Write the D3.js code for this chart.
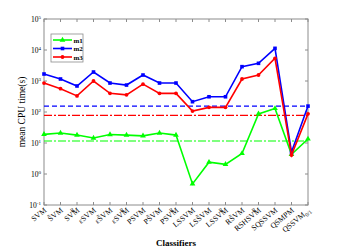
<!DOCTYPE html>
<html>
<head>
<meta charset="utf-8">
<script src="https://cdn.jsdelivr.net/npm/d3@7"></script>
<style>
  body { margin: 0; background: #fff; }
  text { font-family: "Liberation Serif", "DejaVu Serif", serif; }
</style>
</head>
<body>
<div class="chart"></div>
<script>

// data
var classifiers = ["SVM", "S\u0303VM", "SVM^R", "\u03b5SVM", "\u03b5S\u0303VM", "\u03b5SVM^R",
  "PSVM", "PS\u0303VM", "PSVM^R", "LSSVM", "LSS\u0303VM", "LSSVM^R",
  "RS\u0303VM", "RSHSVM^R", "SQSSVM", "QSMPM", "QSSVM_0/1"];

var m1 = [19, 21, 18, 14.5, 18.7, 18, 17, 21, 18, 0.48, 2.4, 2.05, 4.6, 87, 130, 4.3, 13.5];
var m2 = [1680, 1160, 690, 1950, 860, 740, 1560, 860, 860, 215, 310, 310, 2900, 3720, 11300, 5.1, 155];
var m3 = [860, 565, 330, 1000, 400, 357, 790, 400, 400, 107, 141, 141, 1160, 1560, 5400, 4.1, 87];

// mean reference levels
var ref = {m1: 11.6, m2: 155, m3: 78};

var yTicks = [-1, 0, 1, 2, 3, 4, 5];

var series = [
  {name: "m1", values: m1, color: "#00ff00", marker: "tri", dash: "8,2,2,2"},
  {name: "m2", values: m2, color: "#0000ff", marker: "sq", dash: "5,3"},
  {name: "m3", values: m3, color: "#ff0000", marker: "circ", dash: "8,2,2,2"}
];

var margin = {top: 19, right: 33, bottom: 46, left: 44},
    W = 341, H = 251,
    width = W - margin.left - margin.right,
    height = H - margin.top - margin.bottom;

var svg = d3.select(".chart").append("svg")
  .attr("width", W).attr("height", H)

var g = svg.append("g")
  .attr("transform", "translate(" + margin.left + "," + margin.top + ")")

var x = d3.scalePoint()
  .domain(d3.range(classifiers.length))
  .range([0, width])

var y = d3.scaleLog()
  .domain([0.1, 1e5])
  .range([height, 0])

var axisColor = "#8c8c8c";

// frame
g.append("rect")
  .attr("width", width).attr("height", height)
  .attr("fill", "none").attr("stroke", axisColor).attr("stroke-width", 1)

// ticks inside the box
var tickLen = 3;
g.selectAll(".xt").data(d3.range(classifiers.length)).enter().append("path")
  .attr("d", function(i) { return "M" + x(i) + "," + height + "v" + (-tickLen) + "M" + x(i) + ",0v" + tickLen; })
  .attr("stroke", axisColor)
g.selectAll(".yt").data(yTicks).enter().append("path")
  .attr("d", function(e) { var p = y(Math.pow(10, e)); return "M0," + p + "h" + tickLen + "M" + width + "," + p + "h" + (-tickLen); })
  .attr("stroke", axisColor)

// y tick labels
var yl = g.selectAll(".yl").data(yTicks).enter().append("text")
  .attr("x", -3)
  .attr("y", function(e) { return y(Math.pow(10, e)) + 3; })
  .attr("text-anchor", "end")
  .style("font-size", "7.5px")
yl.append("tspan").text("10")
yl.append("tspan").attr("dy", -3).style("font-size", "5px").text(function(e) { return e; })

// x tick labels, rotated
function addLabel(sel, s) {
  var m = s.match(/^([^_^]+)([_^])?(.*)$/);
  sel.append("tspan").text(m[1]);
  if (m[2] == "_") sel.append("tspan").attr("dy", 2).style("font-size", "5.5px").text(m[3]);
  if (m[2] == "^") sel.append("tspan").attr("dy", -4).attr("dx", -7).style("font-size", "5.5px").text(m[3]);
}
g.selectAll(".xl").data(classifiers).enter().append("text")
  .attr("text-anchor", "end")
  .attr("transform", function(d, i) { return "translate(" + (x(i) + 3) + "," + (height + 6) + ") rotate(-40)"; })
  .style("font-size", "7.8px")
  .each(function(d) { addLabel(d3.select(this), d); })

// reference lines
series.forEach(function(s) {
  g.append("line")
    .attr("x1", 0).attr("x2", width)
    .attr("y1", y(ref[s.name])).attr("y2", y(ref[s.name]))
    .attr("stroke", s.color)
    .attr("stroke-width", 1.1)
    .attr("stroke-dasharray", s.dash)
})

var line = d3.line()
  .x(function(d, i) { return x(i); })
  .y(function(d) { return y(d); })

function drawMarker(sel, type, color) {
  if (type == "tri") {
    sel.append("path").attr("d", d3.symbol(d3.symbolTriangle, 14)).attr("fill", color);
  } else if (type == "sq") {
    sel.append("rect").attr("x", -1.8).attr("y", -1.8).attr("width", 3.6).attr("height", 3.6).attr("fill", color);
  } else {
    sel.append("circle").attr("r", 1.9).attr("fill", color);
  }
}

series.forEach(function(s) {
  g.append("path")
    .datum(s.values)
    .attr("d", line)
    .attr("fill", "none")
    .attr("stroke", s.color)
    .attr("stroke-width", 1.6)

  g.selectAll(".pt-" + s.name).data(s.values).enter().append("g")
    .attr("transform", function(d, i) { return "translate(" + x(i) + "," + y(d) + ")"; })
    .each(function() { drawMarker(d3.select(this), s.marker, s.color); })
})

// legend
var lg = g.append("g").attr("transform", "translate(7,15)")
lg.append("rect")
  .attr("width", 32).attr("height", 28)
  .attr("fill", "#fff").attr("stroke", axisColor).attr("stroke-width", 0.8)
series.forEach(function(s, i) {
  var row = lg.append("g").attr("transform", "translate(0," + (6 + i * 8.5) + ")")
  row.append("line").attr("x1", 2).attr("x2", 21).attr("stroke", s.color).attr("stroke-width", 1.6)
  var mk = row.append("g").attr("transform", "translate(11.5,0)")
  drawMarker(mk, s.marker, s.color)
  row.append("text").attr("x", 22.5).attr("y", 2.5)
    .style("font-size", "7px").style("font-weight", "bold")
    .text(s.name)
})

// axis titles
svg.append("text")
  .attr("transform", "translate(25," + (margin.top + height / 2) + ") rotate(-90)")
  .attr("text-anchor", "middle")
  .style("font-size", "9.5px")
  .text("mean CPU time(s)")

svg.append("text")
  .attr("x", margin.left + width / 2).attr("y", 246)
  .attr("text-anchor", "middle")
  .style("font-size", "9px").style("font-weight", "bold")
  .text("Classifiers")

</script>
</body>
</html>
